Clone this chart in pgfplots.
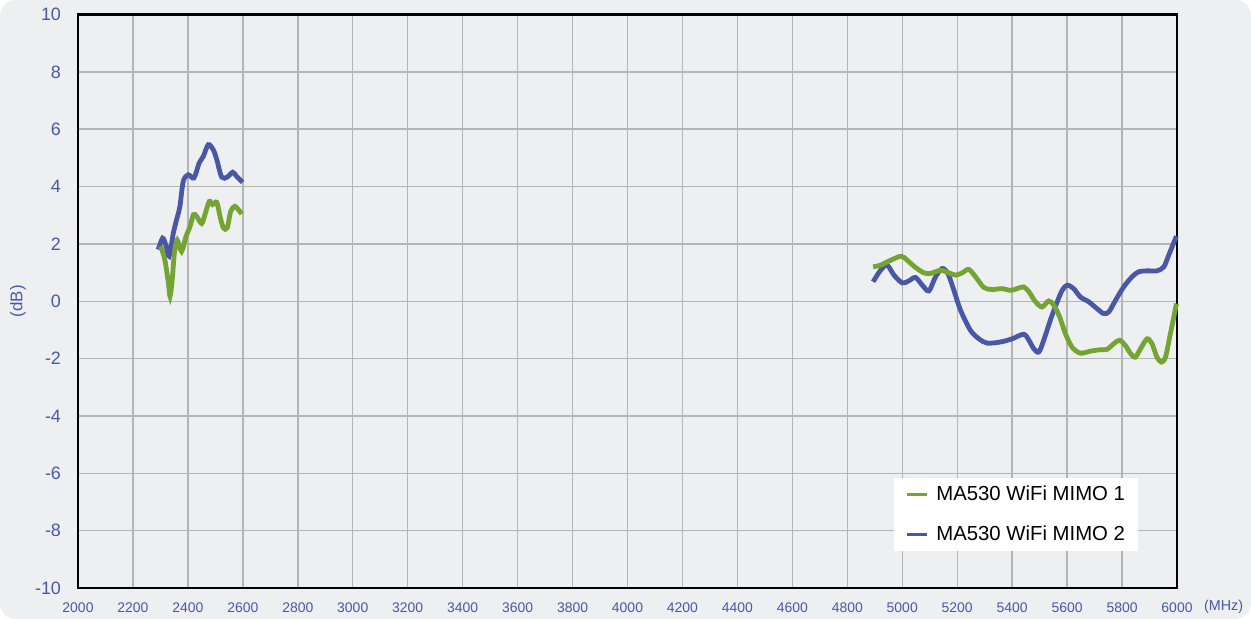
\documentclass[border=0pt]{standalone}
\usepackage{pgfplots}
\pgfplotsset{compat=1.18}
\usepackage{fontspec}
\setmainfont{Liberation Sans}
\definecolor{bg}{HTML}{EEEFF1}
\definecolor{gridc}{HTML}{B4B4B4}
\definecolor{tickc}{HTML}{4A58A6}
\definecolor{mblue}{HTML}{4A57A5}
\definecolor{mgreen}{HTML}{74A533}
\begin{document}
\begin{tikzpicture}
\fill[white] (0,0) rectangle (625.5bp,309.5bp);
\fill[bg, rounded corners=8bp] (0,0) rectangle (625.5bp,309.5bp);
\useasboundingbox (0,0) rectangle (625.5bp,309.5bp);
\begin{axis}[
  at={(39bp,15.5bp)}, anchor=south west,
  scale only axis, width=549.5bp, height=286.75bp,
  xmin=2000, xmax=6000, ymin=-10, ymax=10,
  xtick={2000,2200,...,6000},
  xticklabels={2000,2200,2400,2600,2800,3000,3200,3400,3600,3800,4000,4200,4400,4600,4800,5000,5200,5400,5600,5800,6000},
  ytick={-10,-8,...,10},
  yticklabels={-10,-8,-6,-4,-2,0,2,4,6,8,10},
  major tick length=0pt,
  grid=major,
  major grid style={gridc, line width=0.7bp},
  axis line style={black, line width=1.4bp},
  axis background/.style={fill=bg},
  x tick label style={font=\fontsize{7}{8}\selectfont, text=tickc, yshift=-4bp},
  y tick label style={font=\fontsize{9}{10}\selectfont, text=tickc, xshift=-5bp},
  legend style={at={(0.7425,0.0636)}, anchor=south west, fill=white, draw=none,
    font=\fontsize{10.2}{12}\selectfont, inner xsep=4.5bp, inner ysep=2bp,
    row sep=7bp, cells={anchor=west}},
  legend image code/.code={\path[draw=none] (0bp,0bp) -- (14.5bp,0bp); \draw[#1, line width=1.5bp] (2bp,0bp) -- (12bp,0bp);},
  clip=false,
]
\addlegendimage{mgreen}
\addlegendentry{MA530 WiFi MIMO 1}
\addlegendimage{mblue}
\addlegendentry{MA530 WiFi MIMO 2}

\addplot[mblue, line width=2.4bp, smooth, tension=0.5, forget plot] coordinates {
(2292,1.80) (2308,2.20) (2320,1.95) (2332,1.57) (2347,2.38) (2359,2.85) (2371,3.31)
(2383,4.18) (2401,4.41) (2422,4.30) (2441,4.82) (2456,5.05) (2474,5.46) (2492,5.29)
(2505,4.94) (2523,4.33) (2543,4.33) (2563,4.50) (2577,4.36) (2599,4.15)};

\addplot[mgreen, line width=2.4bp, smooth, tension=0.5, forget plot] coordinates {
(2301,1.92) (2316,1.45) (2329,0.64) (2335,0.17) (2343,0.76) (2351,1.69) (2361,2.13)
(2377,1.74) (2393,2.26) (2408,2.61) (2420,3.02) (2432,2.96) (2450,2.71) (2462,3.02)
(2478,3.48) (2490,3.37) (2505,3.45) (2517,2.96) (2529,2.56) (2543,2.56) (2556,3.14)
(2571,3.31) (2583,3.20) (2596,3.05)};

\addplot[mblue, line width=2.4bp, smooth, tension=0.5, forget plot] coordinates {
(4894,0.68) (4921,1.08) (4945,1.26) (4970,0.91) (5000,0.64) (5024,0.71) (5048,0.83)
(5073,0.56) (5097,0.36) (5121,0.85) (5145,1.14) (5166,0.97) (5188,0.38) (5212,-0.31)
(5248,-1.01) (5279,-1.31) (5309,-1.46) (5358,-1.42) (5400,-1.31) (5442,-1.15) (5461,-1.36)
(5479,-1.66) (5497,-1.77) (5515,-1.36) (5539,-0.66) (5564,-0.02) (5582,0.38) (5600,0.56)
(5624,0.44) (5648,0.15) (5679,-0.02) (5709,-0.26) (5733,-0.43) (5752,-0.37) (5776,0.03)
(5806,0.50) (5836,0.85) (5861,1.03) (5891,1.06) (5927,1.06) (5952,1.20) (5970,1.61)
(5998,2.27)};

\addplot[mgreen, line width=2.4bp, smooth, tension=0.5, forget plot] coordinates {
(4894,1.20) (4921,1.26) (4958,1.43) (4996,1.57) (5018,1.43) (5048,1.18) (5079,0.99)
(5103,0.97) (5139,1.08) (5170,0.99) (5194,0.91) (5218,0.99) (5242,1.11) (5267,0.85)
(5297,0.48) (5327,0.41) (5364,0.44) (5394,0.38) (5418,0.44) (5442,0.50) (5461,0.33)
(5485,-0.02) (5509,-0.20) (5533,0.01) (5552,-0.14) (5573,-0.55) (5594,-1.13) (5618,-1.60)
(5648,-1.81) (5685,-1.74) (5721,-1.69) (5745,-1.68) (5770,-1.48) (5791,-1.36) (5812,-1.54)
(5830,-1.81) (5848,-1.95) (5867,-1.66) (5891,-1.31) (5909,-1.48) (5927,-1.95) (5943,-2.12)
(5958,-1.95) (5976,-1.13) (5998,-0.08)};

\node[font=\fontsize{7.2}{8}\selectfont, text=tickc, anchor=west] at ([xshift=10bp,yshift=-9.5bp]rel axis cs:1,0) {(MHz)};
\node[font=\fontsize{8.5}{9}\selectfont, text=tickc, rotate=90] at ([xshift=-30bp]rel axis cs:0,0.5) {(dB)};
\end{axis}
\end{tikzpicture}
\end{document}
